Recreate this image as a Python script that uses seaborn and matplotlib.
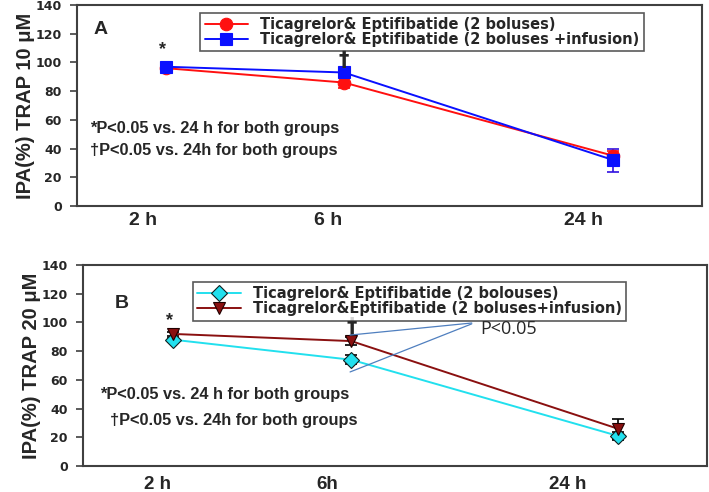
import matplotlib
matplotlib.use("Agg")
import matplotlib.pyplot as plt
from matplotlib.lines import Line2D
import seaborn as sns
import pandas as pd
import numpy as np

# ---------------- data ----------------
times = ["2 h", "6 h", "24 h"]
times_b_labels = ["2 h", "6h", "24 h"]

a_series = ["Ticagrelor& Eptifibatide (2 boluses)",
            "Ticagrelor& Eptifibatide (2 boluses +infusion)"]
a_boluses = [96, 86, 35]
a_boluses_err = [1.5, 4, 3]
a_infusion = [97, 93, 32]
a_infusion_err = [1.5, 3, 8]

b_series = ["Ticagrelor& Eptifibatide (2 bolouses)",
            "Ticagrelor&Eptifibatide (2 boluses+infusion)"]
b_boluses = [88, 74, 21]
b_boluses_err = [1.5, 3.2, 3]
b_infusion = [92, 87, 26]
b_infusion_err = [1.5, 3, 7]

# ---------------- layout (axes-fraction x positions) ----------------
a_pts = [0.142, 0.427, 0.858]
a_lbl = [0.106, 0.402, 0.810]
b_pts = [0.144, 0.430, 0.857]
b_lbl = [0.119, 0.391, 0.777]

sns.set_style("white")
plt.rcParams['font.family'] = ['Liberation Sans', 'DejaVu Sans']

fig = plt.figure(figsize=(7.09, 4.92), dpi=100)
axA = fig.add_axes([77/709, 1-206/492, 625/709, 201/492])
axB = fig.add_axes([83/709, 1-466/492, 624/709, 201/492])


def style_axis(ax, lbl_pos, lbls, ylabel, xpad, xsize):
    ax.set_xlim(0, 1)
    ax.set_ylim(0, 140)
    ax.set_yticks(range(0, 141, 20))
    ax.set_yticklabels([str(v) for v in range(0, 141, 20)],
                       fontfamily='DejaVu Sans', fontweight='bold', fontsize=9)
    ax.set_xticks(lbl_pos)
    ax.set_xticklabels(lbls, fontsize=xsize, fontweight='bold')
    ax.tick_params(axis='x', length=0, pad=xpad)
    ax.tick_params(axis='y', length=5, width=1.2, color='#404040', direction='out',
                   left=True, pad=6)
    for s in ax.spines.values():
        s.set_color('#404040')
        s.set_linewidth(1.5)
        s.set_visible(True)
    ax.set_ylabel(ylabel, fontsize=14.5, fontweight='bold', labelpad=0)
    ax.set_xlabel("")


def draw_panel(ax, pts, names, vals, errs, colors, markers, msizes, mec, ecolors):
    rows = []
    for n, v in zip(names, vals):
        for x, y in zip(pts, v):
            rows.append({"x": x, "y": y, "grp": n})
    df = pd.DataFrame(rows)
    for n, v, e, c, m, ms, ec, erc in zip(names, vals, errs, colors, markers, msizes, mec, ecolors):
        ax.errorbar(pts, v, yerr=e, fmt='none', ecolor=erc, elinewidth=1.2,
                    capsize=4, capthick=1.2, zorder=2)
        sub = df[df.grp == n]
        sns.lineplot(data=sub, x="x", y="y", ax=ax, color=c, marker=m,
                     markersize=ms, markeredgecolor=ec, markeredgewidth=0.8,
                     linewidth=1.4, legend=False, zorder=3, sort=False)
    handles = [Line2D([], [], color=c, marker=m, markersize=ms, markeredgecolor=ec,
                      markeredgewidth=0.8, linewidth=1.4)
               for c, m, ms, ec in zip(colors, markers, msizes, mec)]
    return handles


leg_kw = dict(loc='upper left', frameon=True, fancybox=False, edgecolor='#303030',
              handlelength=3.0, borderpad=0.3, labelspacing=0.0,
              handletextpad=0.8, borderaxespad=0,
              prop={'family': 'DejaVu Sans', 'weight': 'bold', 'size': 10.5})

# Panel A
hA = draw_panel(axA, a_pts, a_series,
                [a_boluses, a_infusion], [a_boluses_err, a_infusion_err],
                ['#ff1010', '#0a10ff'], ['o', 's'], [9, 8.5],
                ['#ff1010', '#0a10ff'], ['#ff1010', '#3010e0'])
style_axis(axA, a_lbl, times, "IPA(%) TRAP 10 μM", 4.5, 14)
legA = axA.legend(hA, a_series, bbox_to_anchor=(0.197, 0.962), **leg_kw)
legA.get_frame().set_linewidth(1.2)
axA.text(0.027, 123, "A", fontsize=14, fontweight='bold', va='center', ha='left')
axA.text(a_pts[0] - 0.005, 109, "*", fontsize=13, fontweight='bold', va='center', ha='center')
axA.text(a_pts[1], 102, "†", fontsize=15, fontfamily='DejaVu Sans', fontweight='bold',
         va='center', ha='center')
axA.text(0.021, 54, "*P<0.05 vs. 24 h for both groups", fontsize=11.8, fontweight='bold',
         va='center', ha='left')
axA.text(0.021, 39, "†P<0.05 vs. 24h for both groups", fontsize=11.8, fontweight='bold',
         va='center', ha='left')

# Panel B
hB = draw_panel(axB, b_pts, b_series,
                [b_boluses, b_infusion], [b_boluses_err, b_infusion_err],
                ['#22e0ee', '#8a1010'], ['D', 'v'], [8, 9],
                ['#102020', '#200000'], ['black', 'black'])
style_axis(axB, b_lbl, times_b_labels, "IPA(%) TRAP 20 μM", 7.5, 13.5)
legB = axB.legend(hB, b_series, bbox_to_anchor=(0.176, 0.915), **leg_kw)
legB.get_frame().set_linewidth(1.2)
axB.text(0.051, 113.5, "B", fontsize=14, fontweight='semibold', va='center', ha='left')
axB.text(b_pts[0] - 0.006, 101.5, "*", fontsize=13, fontweight='bold', va='center', ha='center')
axB.text(b_pts[1], 97, "†", fontsize=15, fontfamily='DejaVu Sans', fontweight='bold',
         va='center', ha='center')
axB.text(0.027, 50, "*P<0.05 vs. 24 h for both groups", fontsize=11.8, fontweight='bold',
         va='center', ha='left')
axB.text(0.043, 32, "†P<0.05 vs. 24h for both groups", fontsize=11.8, fontweight='bold',
         va='center', ha='left')
axB.plot([0.623, 0.428], [99.6, 91.2], color='#4f7fbf', lw=0.9, zorder=4)
axB.plot([0.623, 0.428], [99.0, 65.5], color='#4f7fbf', lw=0.9, zorder=4)
axB.text(0.636, 95.4, "P<0.05", fontsize=13, fontfamily='Open Sans', va='center', ha='left')

fig.savefig("out.png", dpi=100)
